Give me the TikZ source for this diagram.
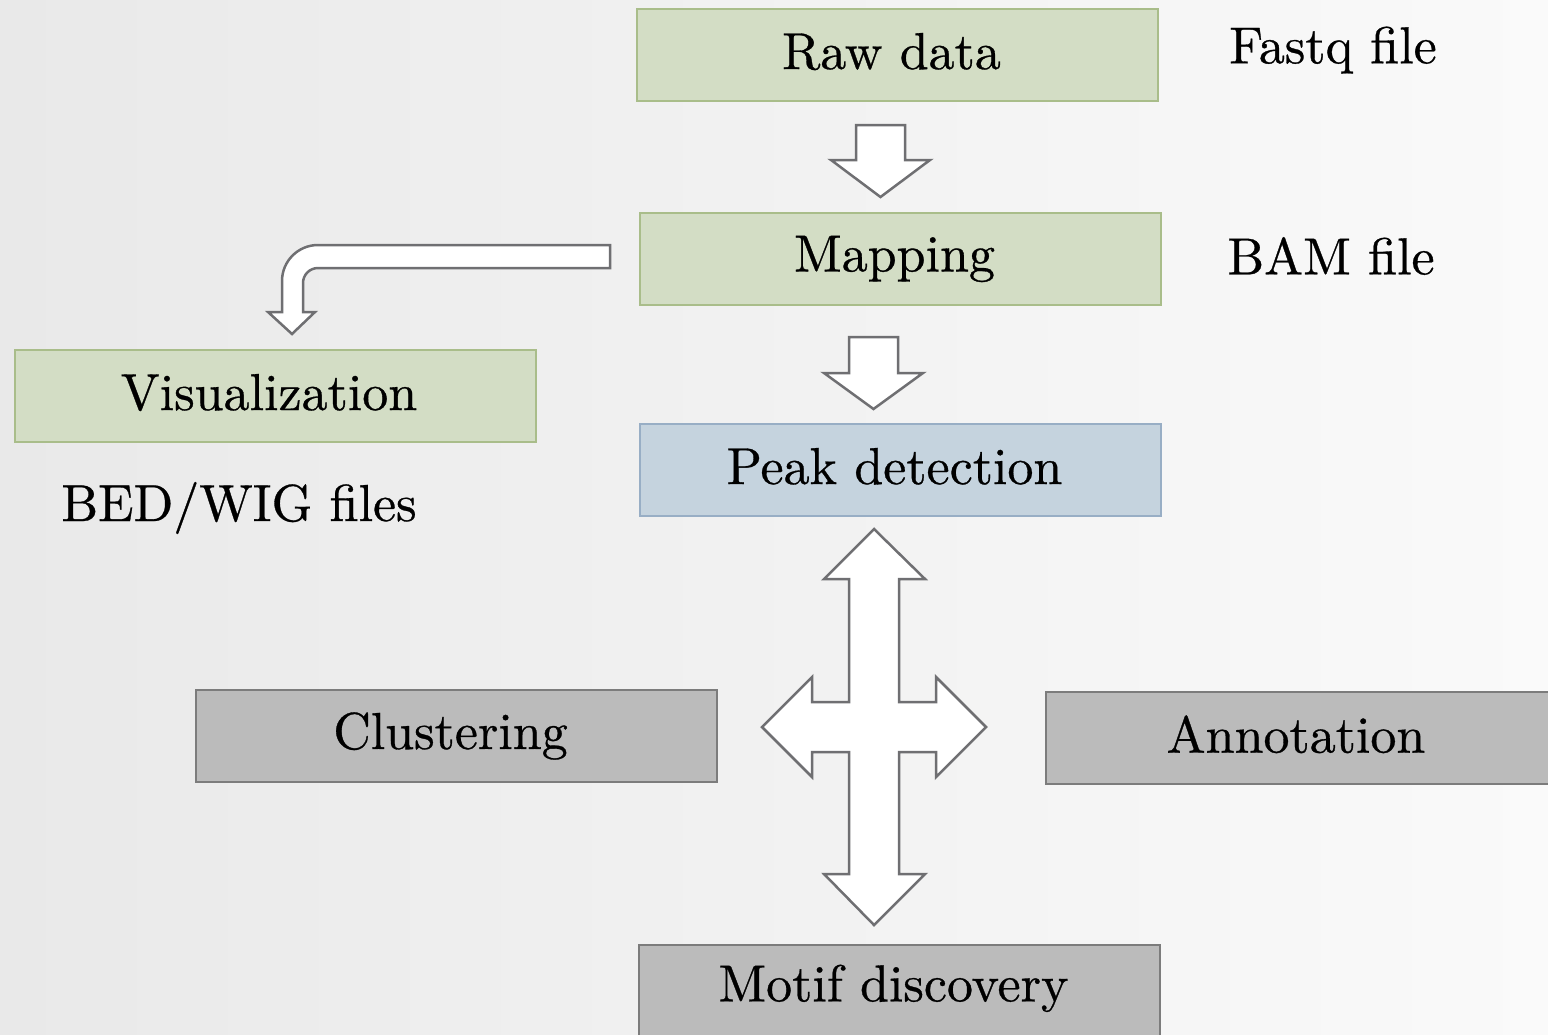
\documentclass[tikz,border=0pt]{standalone}
\usepackage{fontspec}
\setmainfont{lmroman10-regular.otf}[FakeBold=0.6]
\usetikzlibrary{calc}
\definecolor{gfill}{HTML}{D3DDC5}
\definecolor{gline}{HTML}{A9BD8A}
\definecolor{bfill}{HTML}{C5D3DE}
\definecolor{bline}{HTML}{98AEC5}
\definecolor{kfill}{HTML}{BBBBBB}
\definecolor{kline}{HTML}{7C7C7C}
\definecolor{aline}{HTML}{6F6F72}
\definecolor{bgL}{HTML}{E9E9E9}
\definecolor{bgR}{HTML}{FAFAFA}
\newcommand{\boxtxt}[1]{\hspace*{-12pt}\raisebox{8pt}{#1}}
\tikzset{
  box/.style={draw, line width=2pt, minimum width=521pt, minimum height=92pt, inner sep=0pt,
              font=\fontsize{52}{60}\selectfont, text=black},
  greenbox/.style={box, fill=gfill, draw=gline},
  bluebox/.style={box, fill=bfill, draw=bline},
  graybox/.style={box, fill=kfill, draw=kline},
  lbl/.style={font=\fontsize{52}{60}\selectfont, inner sep=0pt},
  blockarrow/.style={draw=aline, fill=white, line width=2.5pt, line join=miter}
}
\begin{document}
\begin{tikzpicture}[x=1pt, y=-1pt]
\useasboundingbox (0,0) rectangle (1548,1034);
\clip (0,0) rectangle (1548,1034);
\shade[left color=bgL, right color=bgR] (0,0) rectangle (1548,1034);

% boxes
\node[greenbox] (raw) at (897.5,55) {\boxtxt{Raw data}};
\node[greenbox] (map) at (900.5,259) {\boxtxt{Mapping}};
\node[greenbox] (vis) at (275,396) {\boxtxt{Visualization}};
\node[bluebox] (peak) at (900.5,470) {\boxtxt{Peak detection}};
\node[graybox] (clu) at (456.5,736) {\boxtxt{Clustering}};
\node[graybox, minimum width=530pt, anchor=west] (ann) at (1045,738) {\hspace*{-30pt}\raisebox{8pt}{Annotation}};
\node[graybox, minimum height=100pt, anchor=north] (mot) at (899.5,944) {\hspace*{-12pt}\raisebox{24pt}{Motif discovery}};

% side labels
\node[lbl] (fq) at (1333,50) {Fastq file};
\node[lbl] (bam) at (1331,256) {BAM file};
\node[lbl] (bed) at (239,508) {BED/WIG files};

% down arrow raw -> map
\draw[blockarrow] (856,125) -- (905,125) -- (905,160) -- (930,160) -- (880.5,197)
  -- (831,160) -- (856,160) -- cycle;
% down arrow map -> peak
\draw[blockarrow] (849,337) -- (898,337) -- (898,373) -- (923,373) -- (873.5,409)
  -- (824,373) -- (849,373) -- cycle;

% bent arrow map -> vis
\draw[blockarrow] (610,245) -- (318,245) arc[start angle=270, end angle=180, radius=36]
  -- (282,312) -- (268,312) -- (292,334) -- (315,312) -- (303,312) -- (303,283)
  arc[start angle=180, end angle=270, radius=15] -- (610,268) -- cycle;

% four-way arrow
\draw[blockarrow] (874,529) -- (925,579) -- (899,579) -- (899,702) -- (936,702)
  -- (936,677) -- (986,727) -- (936,777) -- (936,752) -- (899,752) -- (899,874)
  -- (925,874) -- (874,925) -- (824,874) -- (849,874) -- (849,752) -- (812,752)
  -- (812,777) -- (762,727) -- (812,677) -- (812,702) -- (849,702) -- (849,579)
  -- (824,579) -- cycle;
\end{tikzpicture}
\end{document}
